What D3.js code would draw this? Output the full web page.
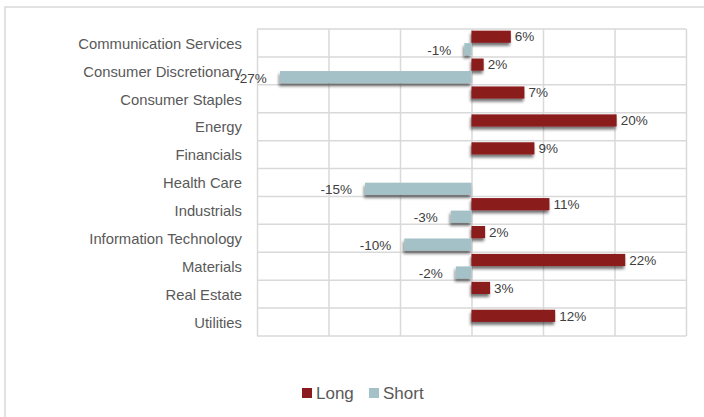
<!DOCTYPE html>
<html>
<head>
<meta charset="utf-8">
<script src="https://cdn.jsdelivr.net/npm/d3@7"></script>
<style>
  html, body { margin: 0; padding: 0; background: #fff; }
  svg { display: block; font-family: "Liberation Sans", Arial, sans-serif; }
</style>
</head>
<body>
<svg id="chart" width="704" height="417"></svg>
<script>
const categories = ["Communication Services", "Consumer Discretionary", "Consumer Staples", "Energy",
  "Financials", "Health Care", "Industrials", "Information Technology", "Materials", "Real Estate", "Utilities"];
const seriesNames = ["Long", "Short"];
const longValues  = [5.5, 1.7, 7.4, 20.3, 8.8, 0, 10.9, 1.9, 21.5, 2.6, 11.7];
const shortValues = [-1.0, -26.8, 0, 0, 0, -14.9, -2.9, -9.4, -2.2, 0, 0];
const longLabels  = ["6%", "2%", "7%", "20%", "9%", "", "11%", "2%", "22%", "3%", "12%"];
const shortLabels = ["-1%", "-27%", "", "", "", "-15%", "-3%", "-10%", "-2%", "", ""];
const xTicks = [-30, -20, -10, 0, 10, 20, 30];
const colors = {Long: "#8B1A1E", Short: "#A3C1C6"};

const svg = d3.select("#chart");
const pLeft = 257, pRight = 686, pTop = 29, pBottom = 336;

// outer chart border
svg.append("rect").attr("x", 5).attr("y", 7).attr("width", 720).attr("height", 430)
  .attr("fill", "none").attr("stroke", "#d9d9d9").attr("stroke-width", 1.5);

const defs = svg.append("defs");
const f = defs.append("filter").attr("id", "shadow").attr("x", "-20%").attr("y", "-50%")
  .attr("width", "140%").attr("height", "220%");
f.append("feGaussianBlur").attr("in", "SourceAlpha").attr("stdDeviation", 1.6).attr("result", "b");
f.append("feOffset").attr("in", "b").attr("dx", -1.5).attr("dy", 2.5).attr("result", "o");
f.append("feComponentTransfer").attr("in", "o").attr("result", "s")
  .append("feFuncA").attr("type", "linear").attr("slope", 0.55);
const fm = f.append("feMerge");
fm.append("feMergeNode").attr("in", "s");
fm.append("feMergeNode").attr("in", "SourceGraphic");

const x = d3.scaleLinear().domain([-30, 30]).range([pLeft, pRight]);
const y = d3.scaleBand().domain(categories).range([pTop, pBottom]).paddingInner(0).paddingOuter(0);
const ys = d3.scaleBand().domain(seriesNames).range([0, y.bandwidth()]).paddingOuter(0.13).paddingInner(0.03);

// vertical gridlines
svg.append("g").attr("transform", `translate(0,${pBottom})`)
  .call(d3.axisBottom(x).tickValues(xTicks).tickSize(-(pBottom - pTop)).tickFormat(""))
  .call(g => g.select(".domain").remove())
  .call(g => g.selectAll("line").attr("stroke", "#d9d9d9").attr("stroke-width", 1.5));

// horizontal gridlines (category boundaries)
const bounds = categories.map(c => y(c)).concat([pBottom]);
svg.append("g").selectAll("line").data(bounds).join("line")
  .attr("x1", pLeft).attr("x2", pRight).attr("y1", d => d).attr("y2", d => d)
  .attr("stroke", "#d9d9d9").attr("stroke-width", 1.5);

// category axis
svg.append("g").attr("transform", `translate(${pLeft},1)`)
  .call(d3.axisLeft(y).tickSize(0).tickPadding(15))
  .call(g => g.select(".domain").remove())
  .call(g => g.selectAll("text").attr("fill", "#595959").style("font-size", "14.8px")
    .style("font-family", "'Liberation Sans', Arial, sans-serif"));

const rows = categories.map((c, i) => ({c, Long: longValues[i], Short: shortValues[i], lL: longLabels[i], sL: shortLabels[i]}));

const bars = svg.append("g").attr("filter", "url(#shadow)");
seriesNames.forEach(s => {
  bars.selectAll(null).data(rows.filter(r => r[s] !== 0)).join("rect")
    .attr("x", d => x(Math.min(0, d[s])))
    .attr("width", d => Math.abs(x(d[s]) - x(0)))
    .attr("y", d => y(d.c) + ys(s))
    .attr("height", ys.bandwidth())
    .attr("fill", colors[s]);
});

// data labels
const lab = svg.append("g").style("font-size", "13.5px").attr("fill", "#404040");
lab.selectAll(null).data(rows.filter(r => r.lL)).join("text")
  .attr("x", d => x(d.Long) + 4)
  .attr("y", d => y(d.c) + ys("Long") + ys.bandwidth() / 2)
  .attr("dy", "0.35em").text(d => d.lL);
lab.selectAll(null).data(rows.filter(r => r.sL)).join("text")
  .attr("x", d => x(d.Short) - 13)
  .attr("y", d => y(d.c) + ys("Short") + ys.bandwidth() / 2 + 1)
  .attr("dy", "0.35em").attr("text-anchor", "end").text(d => d.sL);

// legend
const legend = svg.append("g").style("font-size", "17px").attr("fill", "#595959");
const legendPos = [302, 369];
seriesNames.forEach((s, i) => {
  legend.append("rect").attr("x", legendPos[i]).attr("y", 388).attr("width", 10).attr("height", 10).attr("fill", colors[s]);
  legend.append("text").attr("x", legendPos[i] + 14).attr("y", 393).attr("dy", "0.35em").text(s);
});
</script>
</body>
</html>
